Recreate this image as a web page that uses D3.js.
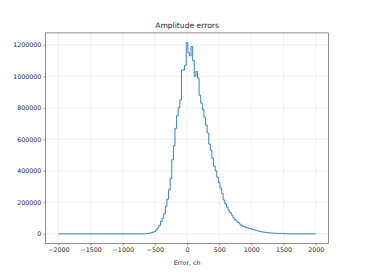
<!DOCTYPE html>
<html>
<head>
<meta charset="utf-8">
<script src="https://cdn.jsdelivr.net/npm/d3@7"></script>
<style>
  html, body { margin: 0; padding: 0; background: #fff; }
  text { font-family: "DejaVu Sans", sans-serif; fill: #262626; }
</style>
</head>
<body>
<div id="chart"></div>
<script>
// Histogram of amplitude errors (bin width 25, first bin centred at -625)
const binStart = -637.5;
const binWidth = 25;
const counts = [
  1000, 2000, 4000, 7000, 11000, 14000, 25000, 38000, 55000, 78000,      // -625 .. -400
  100000, 130000, 175000, 220000, 280000, 350000, 470000, 560000, 670000, // -375 .. -175
  750000, 800000, 850000, 1040000, 1040000, 1070000,                     // -150 .. -25
  1215000, 1150000, 1130000, 1190000, 1100000, 1000000, 1030000, 990000,  // 0 .. 175
  880000, 830000, 790000, 740000, 690000, 640000, 570000, 530000,         // 200 .. 375
  480000, 430000, 400000, 360000, 325000, 290000, 255000, 215000,         // 400 .. 575
  190000, 170000, 150000, 135000, 118000, 102000, 90000, 80000,           // 600 .. 775
  72000, 62000, 54000, 47000, 45000, 40000, 37000, 34000,                 // 800 .. 975
  31000, 28000, 25000, 22000, 19000, 16500, 14000, 12000,                 // 1000 .. 1175
  10500, 9000, 7700, 6500, 5500, 4600, 3900, 3200,                        // 1200 .. 1375
  2700, 2200, 1800, 1500, 1200, 1000, 800, 600, 500                       // 1400 .. 1600
];
const rangeMin = -2000, rangeMax = 2000;

const xTicks = [-2000, -1500, -1000, -500, 0, 500, 1000, 1500, 2000];
const yTicks = [0, 200000, 400000, 600000, 800000, 1000000, 1200000];

const titleText = "Amplitude errors";
const xLabelText = "Error, ch";

const W = 365, H = 274;
const margin = { left: 45.6, right: 36.5, top: 32.9, bottom: 30.6 };

const svg = d3.select("#chart").append("svg")
    .attr("width", W).attr("height", H)
    .attr("viewBox", `0 0 ${W} ${H}`);

// build the step outline
const pts = [[rangeMin, 0]];
let edge = binStart;
pts.push([edge, 0]);
counts.forEach(c => {
    pts.push([edge, c]);
    pts.push([edge + binWidth, c]);
    edge += binWidth;
});
pts.push([edge, 0]);
pts.push([rangeMax, 0]);

const yMax = d3.max(counts);
const xPad = (rangeMax - rangeMin) * 0.05;
const yPad = yMax * 0.05;

const x = d3.scaleLinear()
    .domain([rangeMin - xPad, rangeMax + xPad])
    .range([margin.left, W - margin.right]);
const y = d3.scaleLinear()
    .domain([-yPad, yMax + yPad])
    .range([H - margin.bottom, margin.top]);

const fmt = v => (v < 0 ? "\u2212" : "") + Math.abs(v);

// grid
const grid = svg.append("g").attr("class", "grid");
grid.selectAll("line.gx").data(xTicks).join("line")
    .attr("x1", d => x(d)).attr("x2", d => x(d))
    .attr("y1", margin.top).attr("y2", H - margin.bottom)
    .attr("stroke", "#e8e8e8").attr("stroke-width", 0.6);
grid.selectAll("line.gy").data(yTicks).join("line")
    .attr("y1", d => y(d)).attr("y2", d => y(d))
    .attr("x1", margin.left).attr("x2", W - margin.right)
    .attr("stroke", "#e8e8e8").attr("stroke-width", 0.6);

// histogram line
const line = d3.line().x(d => x(d[0])).y(d => y(d[1]));
svg.append("path")
    .datum(pts)
    .attr("d", line)
    .attr("fill", "none")
    .attr("stroke", "#1f77b4")
    .attr("stroke-width", 0.9)
    .attr("stroke-linejoin", "miter");

// axes
const xAxis = d3.axisBottom(x).tickValues(xTicks).tickFormat(fmt)
    .tickSizeInner(2.2).tickSizeOuter(0).tickPadding(2.2);
const yAxis = d3.axisLeft(y).tickValues(yTicks).tickFormat(fmt)
    .tickSizeInner(2.2).tickSizeOuter(0).tickPadding(2.2);

const gx = svg.append("g")
    .attr("transform", `translate(0,${H - margin.bottom})`)
    .call(xAxis);
const gy = svg.append("g")
    .attr("transform", `translate(${margin.left},0)`)
    .call(yAxis);
[gx, gy].forEach(g => {
    g.select(".domain").remove();
    g.selectAll(".tick line").attr("stroke", "#333").attr("stroke-width", 0.5);
    g.selectAll(".tick text")
        .style("font-family", "DejaVu Sans, sans-serif")
        .style("font-size", "6.3px")
        .attr("fill", "#262626");
});

// frame
svg.append("rect")
    .attr("x", margin.left).attr("y", margin.top)
    .attr("width", W - margin.left - margin.right)
    .attr("height", H - margin.top - margin.bottom)
    .attr("fill", "none").attr("stroke", "#444").attr("stroke-width", 0.6);

// title and label
svg.append("text")
    .attr("x", (margin.left + W - margin.right) / 2)
    .attr("y", 27.5)
    .attr("text-anchor", "middle")
    .style("font-size", "7.6px")
    .text(titleText);

svg.append("text")
    .attr("x", (margin.left + W - margin.right) / 2)
    .attr("y", 264.5)
    .attr("text-anchor", "middle")
    .style("font-size", "6.3px")
    .text(xLabelText);
</script>
</body>
</html>
